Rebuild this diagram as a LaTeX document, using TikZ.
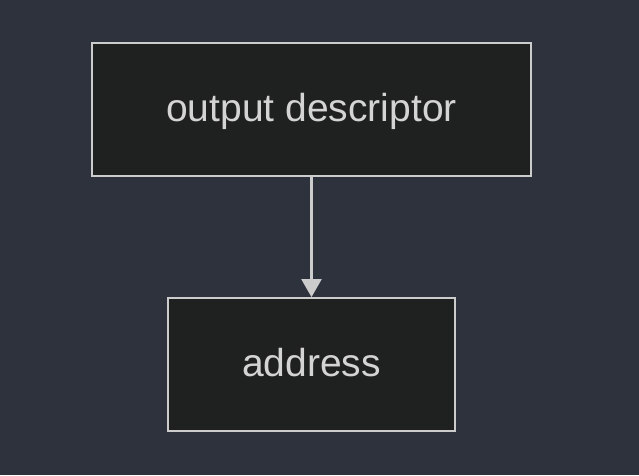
\documentclass[tikz,border=0pt]{standalone}
\usepackage{fontspec}
\setmainfont{Liberation Sans}
\usepackage{xcolor}
\definecolor{canvas}{HTML}{2E323D}
\definecolor{boxfill}{HTML}{1F2120}
\definecolor{edge}{HTML}{CCCCCC}
\definecolor{label}{HTML}{D4D4D4}
\usepackage{tikz}
\usetikzlibrary{arrows.meta, positioning}

\begin{document}
\begin{tikzpicture}[node distance=120pt, >={Triangle[width=20pt,length=18pt]}]
  \fill[canvas] (0pt,0pt) rectangle (639pt,-475pt);
  \useasboundingbox (0pt,0pt) rectangle (639pt,-475pt);

  \node[draw=edge, fill=boxfill, line width=2.2pt,
        minimum width=439pt, minimum height=133pt,
        text height=30pt, text depth=6pt,
        font=\fontsize{39pt}{44pt}\selectfont, text=label] (descriptor)
        at (311.5pt,-109.5pt) {output descriptor};

  \node[draw=edge, fill=boxfill, line width=2.2pt,
        minimum width=287pt, minimum height=133pt,
        text height=30pt, text depth=6pt,
        font=\fontsize{39pt}{44pt}\selectfont, text=label,
        below=of descriptor] (address)
        {address};

  \draw[->, line width=2.2pt, color=edge]
    (descriptor.south) -- (address.north);
\end{tikzpicture}
\end{document}
